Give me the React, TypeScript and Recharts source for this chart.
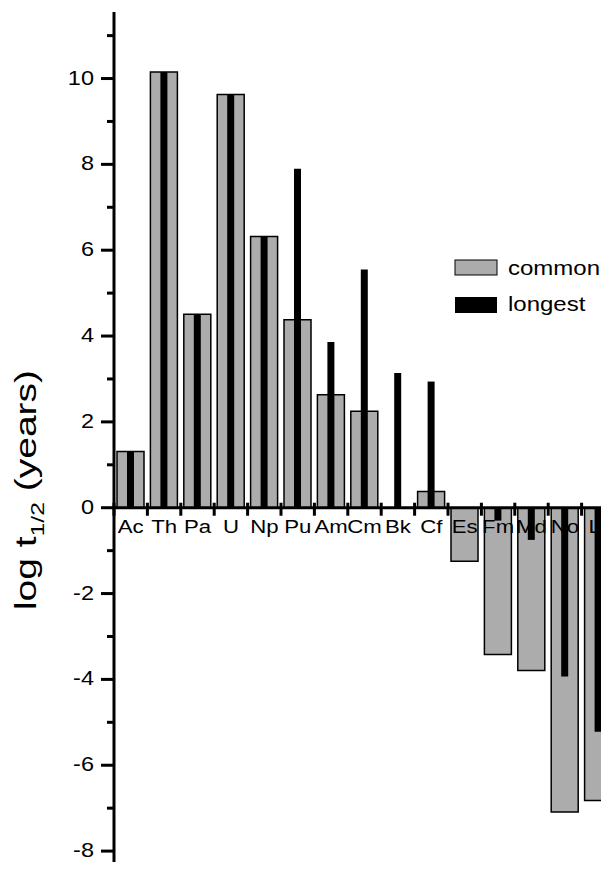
import React from "react";
import { BarChart, Bar, XAxis, YAxis, ReferenceLine } from "recharts";

const ELEMENTS = ["Ac", "Th", "Pa", "U", "Np", "Pu", "Am", "Cm", "Bk", "Cf", "Es", "Fm", "Md", "No", "Lr"];
// log10 of half-life in years, most common isotope
const COMMON = [1.31, 10.15, 4.51, 9.63, 6.32, 4.38, 2.63, 2.25, null, 0.38, -1.25, -3.42, -3.79, -7.09, -6.82];
// log10 of half-life in years, longest-lived isotope
const LONGEST = [1.31, 10.15, 4.51, 9.63, 6.32, 7.9, 3.86, 5.55, 3.14, 2.94, null, -0.3, -0.75, -3.93, -5.22];
const Y_TICKS = [-9, -8, -7, -6, -5, -4, -3, -2, -1, 0, 1, 2, 3, 4, 5, 6, 7, 8, 9, 10, 11];

const Y_MIN = -9;
const Y_MAX = 11.55;

const CHART_W = 640;
const X_AXIS_H = 30;
const CHART_H = 930;
const MARGIN = { top: 12, right: 25, bottom: 6, left: 0 };
const Y_AXIS_W = 114;
const PLOT_W = CHART_W - MARGIN.left - MARGIN.right - Y_AXIS_W;
const PLOT_H = CHART_H - MARGIN.top - MARGIN.bottom - X_AXIS_H;
const BAND = PLOT_W / ELEMENTS.length;
const ZERO_Y = MARGIN.top + (PLOT_H * Y_MAX) / (Y_MAX - Y_MIN);

const FONT = "'Liberation Sans', Arial, Helvetica, sans-serif";
const GRAY = "#acacac";

const data = ELEMENTS.map((name, i) => ({
  name,
  common: COMMON[i],
  longest: LONGEST[i],
}));

// category labels sit on the zero line, not at the bottom of the plot
const XTick = (props: any) => {
  const { x, payload } = props;
  const bx = x - BAND / 2;
  return (
    <g>
      <rect x={bx - 1.5} y={ZERO_Y - 5} width={3} height={13} fill="#000" />
      <text
        transform={`translate(${x},${ZERO_Y + 25}) scale(1.2,1)`}
        textAnchor="middle"
        fontSize={18.5}
        fontFamily={FONT}
        fill="#000"
      >
        {payload.value}
      </text>
    </g>
  );
};

const YTick = (props: any) => {
  const { x, y, payload } = props;
  const v = payload.value as number;
  const major = v % 2 === 0;
  const len = major ? 13 : 7;
  return (
    <g>
      <rect x={x - len} y={y - 1.5} width={len} height={3} fill="#000" />
      {major && (
        <text
          transform={`translate(${x - 20},${y + 6}) scale(1.12,1)`}
          textAnchor="end"
          fontSize={21}
          fontFamily={FONT}
          fill="#000"
        >
          {v}
        </text>
      )}
    </g>
  );
};

export default function App() {
  return (
    <div
      style={{
        margin: -8,
        width: 609,
        height: 870,
        overflow: "hidden",
        position: "relative",
        background: "#fff",
      }}
    >
      <BarChart width={CHART_W} height={CHART_H} data={data} margin={MARGIN}>
        <XAxis xAxisId="b" dataKey="name" hide />
        <YAxis
          type="number"
          domain={[Y_MIN, Y_MAX]}
          ticks={Y_TICKS}
          interval={0}
          allowDataOverflow
          width={Y_AXIS_W}
          tickSize={0}
          tickMargin={0}
          tickLine={false}
          axisLine={{ stroke: "#000", strokeWidth: 3 }}
          tick={<YTick />}
        />
        <Bar
          xAxisId="a"
          dataKey="common"
          barSize={27}
          fill={GRAY}
          stroke="#000"
          strokeWidth={1.5}
          isAnimationActive={false}
        />
        <Bar xAxisId="b" dataKey="longest" barSize={7} fill="#000" isAnimationActive={false} />
        <ReferenceLine xAxisId="a" y={0} stroke="#000" strokeWidth={3} />
        <XAxis
          xAxisId="a"
          dataKey="name"
          height={X_AXIS_H}
          axisLine={false}
          tickLine={false}
          interval={0}
          tick={<XTick />}
        />
      </BarChart>

      <svg
        width={609}
        height={870}
        style={{ position: "absolute", left: 0, top: 0, pointerEvents: "none" }}
      >
        <text
          transform="translate(36,490) rotate(-90) scale(1.3,1)"
          textAnchor="middle"
          fontSize={30}
          fontFamily={FONT}
          fill="#000"
        >
          <tspan>log t</tspan>
          <tspan fontSize={19} dy={8}>1/2</tspan>
          <tspan dy={-8}>{"\u00a0(years)"}</tspan>
        </text>

        <rect x={455} y={260} width={42} height={15} fill={GRAY} stroke="#000" strokeWidth={1} />
        <text transform="translate(508,275) scale(1.2,1)" fontSize={20} fontFamily={FONT} fill="#000">
          common
        </text>
        <rect x={455} y={297} width={42} height={16} fill="#000" />
        <text transform="translate(508,311) scale(1.2,1)" fontSize={20} fontFamily={FONT} fill="#000">
          longest
        </text>
      </svg>
    </div>
  );
}
